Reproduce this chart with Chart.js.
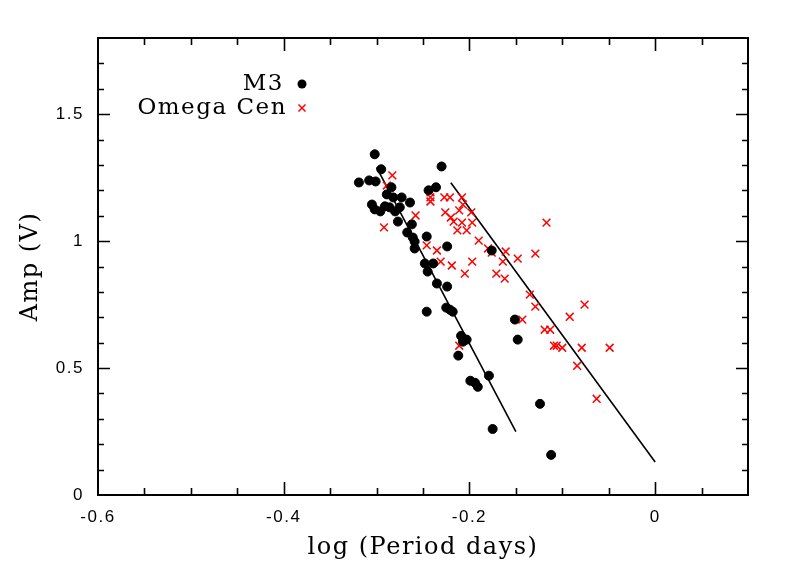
<!DOCTYPE html>
<html>
<head>
<meta charset="utf-8">
<script src="https://cdn.jsdelivr.net/npm/chart.js@4"></script>
<style>
  html, body { margin: 0; padding: 0; background: #ffffff; }
  canvas { display: block; }
</style>
</head>
<body>
<canvas id="c" width="789" height="568"></canvas>
<script>
// ---- Data ----
const m3LogP = [-0.302, -0.295, -0.319, -0.308, -0.301, -0.284, -0.289, -0.282, -0.273, -0.264,
  -0.305, -0.302, -0.296, -0.291, -0.286, -0.280, -0.275, -0.277, -0.262, -0.244,
  -0.236, -0.230, -0.267, -0.261, -0.259, -0.259, -0.246, -0.224, -0.248, -0.239,
  -0.245, -0.235, -0.224, -0.246, -0.225, -0.221, -0.218, -0.209, -0.203, -0.207,
  -0.212, -0.199, -0.194, -0.191, -0.179, -0.175, -0.151, -0.148, -0.176, -0.124,
  -0.112];
const m3Amp = [1.342, 1.283, 1.231, 1.239, 1.235, 1.212, 1.184, 1.172, 1.172, 1.152,
  1.144, 1.125, 1.117, 1.137, 1.133, 1.117, 1.133, 1.077, 1.066, 1.200,
  1.212, 1.294, 1.034, 1.014, 0.998, 0.971, 1.018, 0.979, 0.912, 0.912,
  0.880, 0.833, 0.821, 0.722, 0.738, 0.730, 0.722, 0.627, 0.612, 0.604,
  0.549, 0.450, 0.442, 0.426, 0.470, 0.260, 0.691, 0.612, 0.963, 0.359,
  0.158];

const ocLogP = [-0.283, -0.289, -0.258, -0.242, -0.242, -0.242, -0.227, -0.221, -0.208, -0.207,
  -0.211, -0.198, -0.226, -0.220, -0.217, -0.208, -0.197, -0.213, -0.203, -0.292,
  -0.246, -0.235, -0.231, -0.219, -0.197, -0.205, -0.190, -0.180, -0.176, -0.161,
  -0.164, -0.148, -0.129, -0.117, -0.171, -0.162, -0.135, -0.129, -0.076, -0.092,
  -0.143, -0.119, -0.113, -0.109, -0.106, -0.100, -0.079, -0.049, -0.084, -0.063,
  -0.211];
const ocAmp = [1.259, 1.219, 1.101, 1.192, 1.172, 1.156, 1.172, 1.172, 1.172, 1.144,
  1.121, 1.113, 1.113, 1.093, 1.077, 1.073, 1.073, 1.042, 1.042, 1.054,
  0.983, 0.963, 0.919, 0.904, 0.919, 0.872, 1.002, 0.971, 0.955, 0.959,
  0.919, 0.931, 0.951, 1.073, 0.872, 0.852, 0.789, 0.742, 0.750, 0.702,
  0.691, 0.651, 0.651, 0.588, 0.588, 0.580, 0.580, 0.580, 0.509, 0.379,
  0.588];

const fitM3LogP = [-0.30, -0.15];
const fitM3Amp = [1.29, 0.25];
const fitOcLogP = [-0.22, 0.0];
const fitOcAmp = [1.23, 0.13];

const seriesNames = ['M3', 'Omega Cen'];
const xTitle = 'log (Period days)';
const yTitle = 'Amp (V)';
const xMin = -0.6, xMax = 0.1, xMinorStep = 0.05, xMajorStep = 0.2;
const yMin = 0, yMax = 1.8, yMinorStep = 0.1, yMajorStep = 0.5;

const toPts = (xs, ys) => xs.map((x, i) => ({ x: x, y: ys[i] }));

const SERIF = '"DejaVu Serif", "Liberation Serif", serif';
const SANS = '"Liberation Sans", Arial, sans-serif';

const isMajor = (v, step) => Math.abs(v / step - Math.round(v / step)) < 1e-6;

// slightly wider letter spacing, as in the reference typography
const spacingPlugin = {
  id: 'spacing',
  beforeDraw(chart) { chart.ctx.letterSpacing = '1.5px'; }
};

// Box, inward ticks on all four sides, and legend
const framePlugin = {
  id: 'frame',
  afterDatasetsDraw(chart) {
    const { ctx, chartArea: a, scales } = chart;
    ctx.save();
    ctx.strokeStyle = '#000';
    ctx.lineWidth = 2;
    ctx.strokeRect(a.left, a.top, a.right - a.left, a.bottom - a.top);
    ctx.lineWidth = 1.6;
    ctx.beginPath();
    scales.x.ticks.forEach(t => {
      const px = Math.round(scales.x.getPixelForValue(t.value)) + 0.5;
      if (px <= a.left + 1 || px >= a.right - 1) return;
      const len = isMajor(t.value, xMajorStep) ? 13 : 7;
      ctx.moveTo(px, a.bottom); ctx.lineTo(px, a.bottom - len);
      ctx.moveTo(px, a.top); ctx.lineTo(px, a.top + len);
    });
    scales.y.ticks.forEach(t => {
      const py = Math.round(scales.y.getPixelForValue(t.value)) + 0.5;
      if (py <= a.top + 1 || py >= a.bottom - 1) return;
      const len = isMajor(t.value, yMajorStep) ? 12 : 6;
      ctx.moveTo(a.left, py); ctx.lineTo(a.left + len, py);
      ctx.moveTo(a.right, py); ctx.lineTo(a.right - len, py);
    });
    ctx.stroke();

    // legend
    ctx.font = '23px ' + SERIF;
    ctx.fillStyle = '#000';
    ctx.textAlign = 'right';
    ctx.textBaseline = 'middle';
    const mx = 302;
    const rows = [84, 108];
    ctx.fillText(chart.data.datasets[0].label, 284, rows[0]);
    ctx.fillText(chart.data.datasets[1].label, 287, rows[1]);
    ctx.beginPath();
    ctx.fillStyle = '#000';
    ctx.arc(mx, rows[0], 4.5, 0, Math.PI * 2);
    ctx.fill();
    ctx.strokeStyle = '#ff0000';
    ctx.lineWidth = 1.5;
    ctx.beginPath();
    const r = 3.5;
    ctx.moveTo(mx - r, rows[1] - r); ctx.lineTo(mx + r, rows[1] + r);
    ctx.moveTo(mx - r, rows[1] + r); ctx.lineTo(mx + r, rows[1] - r);
    ctx.stroke();
    ctx.restore();
  }
};

new Chart(document.getElementById('c'), {
  type: 'scatter',
  data: {
    datasets: [
      {
        label: seriesNames[0],
        data: toPts(m3LogP, m3Amp),
        pointStyle: 'circle',
        pointRadius: 4.5,
        pointBackgroundColor: '#000',
        pointBorderColor: '#000',
        pointBorderWidth: 1,
        showLine: false
      },
      {
        label: seriesNames[1],
        data: toPts(ocLogP, ocAmp),
        pointStyle: 'crossRot',
        pointRadius: 5.5,
        pointBorderColor: '#ff0000',
        pointBackgroundColor: '#ff0000',
        pointBorderWidth: 1.5,
        showLine: false
      },
      {
        label: 'M3 fit',
        data: toPts(fitM3LogP, fitM3Amp),
        showLine: true,
        borderColor: '#000',
        borderWidth: 1.6,
        pointRadius: 0,
        fill: false
      },
      {
        label: 'Omega Cen fit',
        data: toPts(fitOcLogP, fitOcAmp),
        showLine: true,
        borderColor: '#000',
        borderWidth: 1.6,
        pointRadius: 0,
        fill: false
      }
    ]
  },
  options: {
    responsive: false,
    animation: false,
    layout: { padding: { top: 38, right: 41, left: 0, bottom: 0 } },
    plugins: {
      legend: { display: false },
      tooltip: { enabled: false },
      title: { display: false }
    },
    scales: {
      x: {
        type: 'linear',
        min: xMin, max: xMax,
        grid: { display: false, drawTicks: false },
        border: { display: false },
        afterFit: s => { s.height = 73; },
        ticks: {
          stepSize: xMinorStep,
          autoSkip: false,
          maxRotation: 0,
          padding: 12,
          color: '#000',
          font: { family: SANS, size: 17 },
          callback: v => isMajor(v, xMajorStep) ? String(Number(v.toFixed(1))) : ''
        },
        title: {
          display: true,
          text: xTitle,
          color: '#000',
          font: { family: SERIF, size: 24 },
          padding: { top: 0, bottom: 6 }
        }
      },
      y: {
        type: 'linear',
        min: yMin, max: yMax,
        grid: { display: false, drawTicks: false },
        border: { display: false },
        afterFit: s => { s.width = 98; },
        ticks: {
          stepSize: yMinorStep,
          autoSkip: false,
          padding: 14,
          color: '#000',
          font: { family: SANS, size: 17 },
          callback: v => isMajor(v, yMajorStep) ? String(Number(v.toFixed(1))) : ''
        },
        title: {
          display: true,
          text: yTitle,
          color: '#000',
          font: { family: SERIF, size: 24 },
          padding: { top: 16, bottom: 0 }
        }
      }
    }
  },
  plugins: [spacingPlugin, framePlugin]
});
</script>
</body>
</html>
